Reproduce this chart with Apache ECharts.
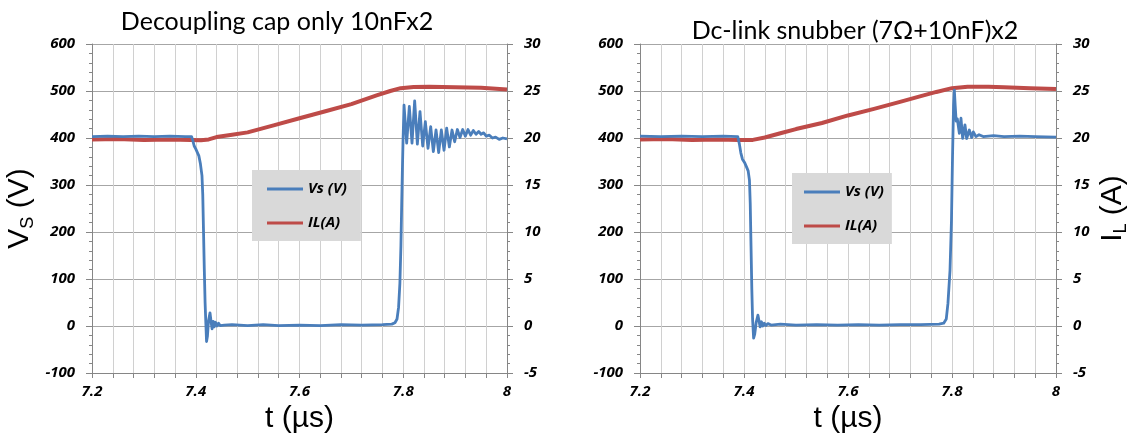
<!DOCTYPE html>
<html>
<head>
    <meta charset="utf-8">
    <title>Vs / IL</title>
    <script src="https://cdn.jsdelivr.net/npm/echarts@6/dist/echarts.min.js"></script>
    <style>
        html, body { margin: 0; padding: 0; background: #fff; }
        #chart1 { width: 1133px; height: 439px; }
    </style>
</head>
<body>
<div id="chart1"></div>
<script type="text/javascript">
    // axis ranges
    var timeRange = [7.2, 8];     // t (µs)
    var vsRange = [-100, 600];    // Vs (V)
    var ilRange = [-5, 30];       // IL (A)
    var titles = ['Decoupling cap only 10nFx2', 'Dc-link snubber (7Ω+10nF)x2'];
    var seriesNames = ['Vs (V)', 'IL(A)'];

    // left: decoupling cap only  [t, Vs]
    var vsDecoup = [
        [7.200, 403], [7.230, 404], [7.260, 403], [7.290, 404], [7.320, 403], [7.350, 404], [7.380, 403], [7.392, 403],
        [7.394, 396], [7.397, 383], [7.400, 377], [7.403, 374], [7.406, 362], [7.409, 345], [7.412, 320], [7.4135, 280],
        [7.415, 200], [7.4165, 120], [7.418, 50], [7.4195, 5], [7.4208, -33], [7.4225, -22], [7.4245, 10], [7.4275, 28],
        [7.4300, 5], [7.4315, -6], [7.4335, 10], [7.4355, -2], [7.438, 8], [7.441, 0], [7.444, 6], [7.447, 1], [7.450, 5],
        [7.455, 2], [7.470, 3], [7.500, 1], [7.530, 3], [7.560, 1], [7.600, 2], [7.640, 1], [7.680, 3], [7.720, 2],
        [7.760, 3], [7.778, 4], [7.784, 7], [7.788, 15], [7.791, 40], [7.7935, 90], [7.7955, 170], [7.797, 260],
        [7.7985, 340], [7.7995, 390],
        [7.8005, 430], [7.8015, 470], [7.8066, 389], [7.8117, 467], [7.8169, 389], [7.8220, 479], [7.8272, 387],
        [7.8323, 456], [7.8375, 383], [7.8426, 435], [7.8477, 378], [7.8529, 424], [7.8580, 371], [7.8632, 417],
        [7.8683, 369], [7.8734, 417], [7.8786, 374], [7.8837, 421], [7.8889, 381], [7.8940, 417], [7.8991, 392],
        [7.9043, 418], [7.9094, 401], [7.9146, 418], [7.9197, 404], [7.9248, 418], [7.9300, 406], [7.9351, 416],
        [7.9403, 408], [7.9454, 414], [7.950, 408], [7.955, 411], [7.960, 404], [7.966, 406], [7.972, 400],
        [7.978, 402], [7.985, 397], [7.992, 400], [8.000, 398]
    ];
    // left: decoupling cap only  [t, IL]
    var ilDecoup = [
        [7.20, 19.85], [7.25, 19.9], [7.30, 19.8], [7.35, 19.85], [7.39, 19.8], [7.41, 19.75], [7.425, 19.85],
        [7.44, 20.1], [7.47, 20.35], [7.50, 20.6], [7.55, 21.35], [7.60, 22.1], [7.65, 22.85], [7.70, 23.6],
        [7.75, 24.55], [7.775, 25.0], [7.795, 25.3], [7.82, 25.42], [7.85, 25.45], [7.90, 25.4], [7.95, 25.35],
        [8.00, 25.15]
    ];
    // right: dc-link snubber  [t, Vs]
    var vsSnub = [
        [7.200, 404], [7.240, 403], [7.280, 404], [7.320, 403], [7.360, 404], [7.388, 403],
        [7.391, 388], [7.394, 368], [7.397, 355], [7.401, 348], [7.405, 338], [7.408, 330], [7.4105, 310],
        [7.412, 260], [7.4135, 170], [7.415, 80], [7.4165, 15], [7.4185, -26], [7.4205, -18], [7.4235, 8],
        [7.4268, 23], [7.4290, 10], [7.4310, -2], [7.4335, 9], [7.4360, 0], [7.439, 6], [7.442, 1], [7.446, 5],
        [7.452, 2], [7.470, 4], [7.500, 2], [7.540, 3], [7.580, 2], [7.620, 3], [7.660, 2], [7.700, 3], [7.740, 3],
        [7.775, 4], [7.784, 6], [7.789, 15], [7.7922, 48], [7.7962, 119], [7.7990, 225], [7.8010, 360],
        [7.8030, 470], [7.8045, 502], [7.8062, 468], [7.8080, 436], [7.8102, 441], [7.8141, 410], [7.8173, 442],
        [7.8205, 399], [7.8250, 428], [7.8282, 399], [7.8333, 417], [7.8378, 401], [7.8410, 413], [7.8460, 403],
        [7.852, 407], [7.860, 403], [7.880, 405], [7.900, 403], [7.930, 404], [7.960, 403], [8.000, 402]
    ];
    // right: dc-link snubber  [t, IL]
    var ilSnub = [
        [7.20, 19.85], [7.25, 19.9], [7.30, 19.8], [7.35, 19.85], [7.39, 19.8], [7.417, 19.8], [7.44, 20.05],
        [7.47, 20.5], [7.50, 20.95], [7.55, 21.6], [7.60, 22.4], [7.65, 23.1], [7.70, 23.85], [7.74, 24.45],
        [7.77, 24.9], [7.80, 25.3], [7.83, 25.45], [7.87, 25.45], [7.90, 25.4], [7.95, 25.3], [8.00, 25.2]
    ];

    var blue = '#4a7ebb';
    var red = '#be4b48';
    var axisGrey = '#868686';
    var tickFont = {fontFamily: 'Open Sans', fontWeight: 'bold', fontStyle: 'italic', fontSize: 15, color: '#000'};
    var nameRich = {
        a: {fontFamily: 'Liberation Sans', fontSize: 30, lineHeight: 34, color: '#000'},
        b: {fontFamily: 'Liberation Sans', fontSize: 18, lineHeight: 6, verticalAlign: 'bottom', color: '#000'}
    };

    function timeAxis(gi) {
        return {
            type: 'value', gridIndex: gi, min: timeRange[0], max: timeRange[1], interval: 0.2,
            name: 't (µs)', nameLocation: 'middle', nameGap: 29,
            nameTextStyle: {fontFamily: 'Liberation Sans', fontSize: 30, color: '#000'},
            axisLine: {onZero: false, lineStyle: {color: axisGrey}},
            axisTick: {length: 5, lineStyle: {color: axisGrey}},
            minorTick: {show: true, splitNumber: 5, length: 5, lineStyle: {color: axisGrey}},
            axisLabel: Object.assign({margin: 11}, tickFont),
            splitLine: {show: true, lineStyle: {color: '#d0d0d0'}},
            minorSplitLine: {show: true, lineStyle: {color: '#d0d0d0'}}
        };
    }

    function valueAxis(gi, range, step, pos, name, gap, grid) {
        return {
            type: 'value', gridIndex: gi, position: pos, min: range[0], max: range[1], interval: step,
            name: name, nameLocation: 'middle', nameGap: gap,
            nameTextStyle: {rich: nameRich},
            axisLine: {show: true, onZero: false, lineStyle: {color: axisGrey}},
            axisTick: {show: true, length: 6, lineStyle: {color: axisGrey}},
            minorTick: {show: true, splitNumber: 5, length: 3, lineStyle: {color: axisGrey}},
            axisLabel: Object.assign({margin: 17}, tickFont),
            splitLine: {show: grid, lineStyle: {color: '#a6a6a6'}}
        };
    }

    function trace(name, data, gi, yi, color, width) {
        return {
            name: name, type: 'line', xAxisIndex: gi, yAxisIndex: yi, data: data,
            showSymbol: false, symbol: 'none', smooth: false,
            lineStyle: {color: color, width: width, join: 'round'},
            itemStyle: {color: color}
        };
    }

    function legendBox(left, top, pad) {
        return {
            data: seriesNames, orient: 'vertical', left: left, top: top, padding: pad,
            itemGap: 16, itemWidth: 36, itemHeight: 3, icon: 'rect',
            backgroundColor: '#d9d9d9', selectedMode: false,
            textStyle: Object.assign({lineHeight: 18}, tickFont)
        };
    }

    var titleStyle = {fontFamily: 'Lato', fontWeight: 'normal', fontSize: 25, color: '#000'};

    var myChart1 = echarts.init(document.getElementById('chart1'));
    myChart1.setOption({
        animation: false,
        backgroundColor: '#fff',
        title: [
            {text: titles[0], left: 272, top: 4, textAlign: 'center', textStyle: titleStyle},
            {text: titles[1], left: 850, top: 13, textAlign: 'center', textStyle: titleStyle}
        ],
        legend: [
            legendBox(252, 170, [10, 14, 9, 15]),
            legendBox(792, 173, [10, 8, 9, 12])
        ],
        grid: [
            {left: 92, right: 626, top: 44, bottom: 66},
            {left: 640, right: 77, top: 44, bottom: 66}
        ],
        xAxis: [timeAxis(0), timeAxis(1)],
        yAxis: [
            valueAxis(0, vsRange, 100, 'left', '{a|V}{b|S}{a| (V)}', 55, true),
            valueAxis(0, ilRange, 5, 'right', '', 40, false),
            valueAxis(1, vsRange, 100, 'left', '', 56, true),
            valueAxis(1, ilRange, 5, 'right', '{a|I}{b|L}{a| (A)}', 40, false)
        ],
        series: [
            trace(seriesNames[1], ilDecoup, 0, 1, red, 4),
            trace(seriesNames[0], vsDecoup, 0, 0, blue, 2.8),
            trace(seriesNames[1], ilSnub, 1, 3, red, 4),
            trace(seriesNames[0], vsSnub, 1, 2, blue, 2.8)
        ]
    });
</script>
</body>
</html>
